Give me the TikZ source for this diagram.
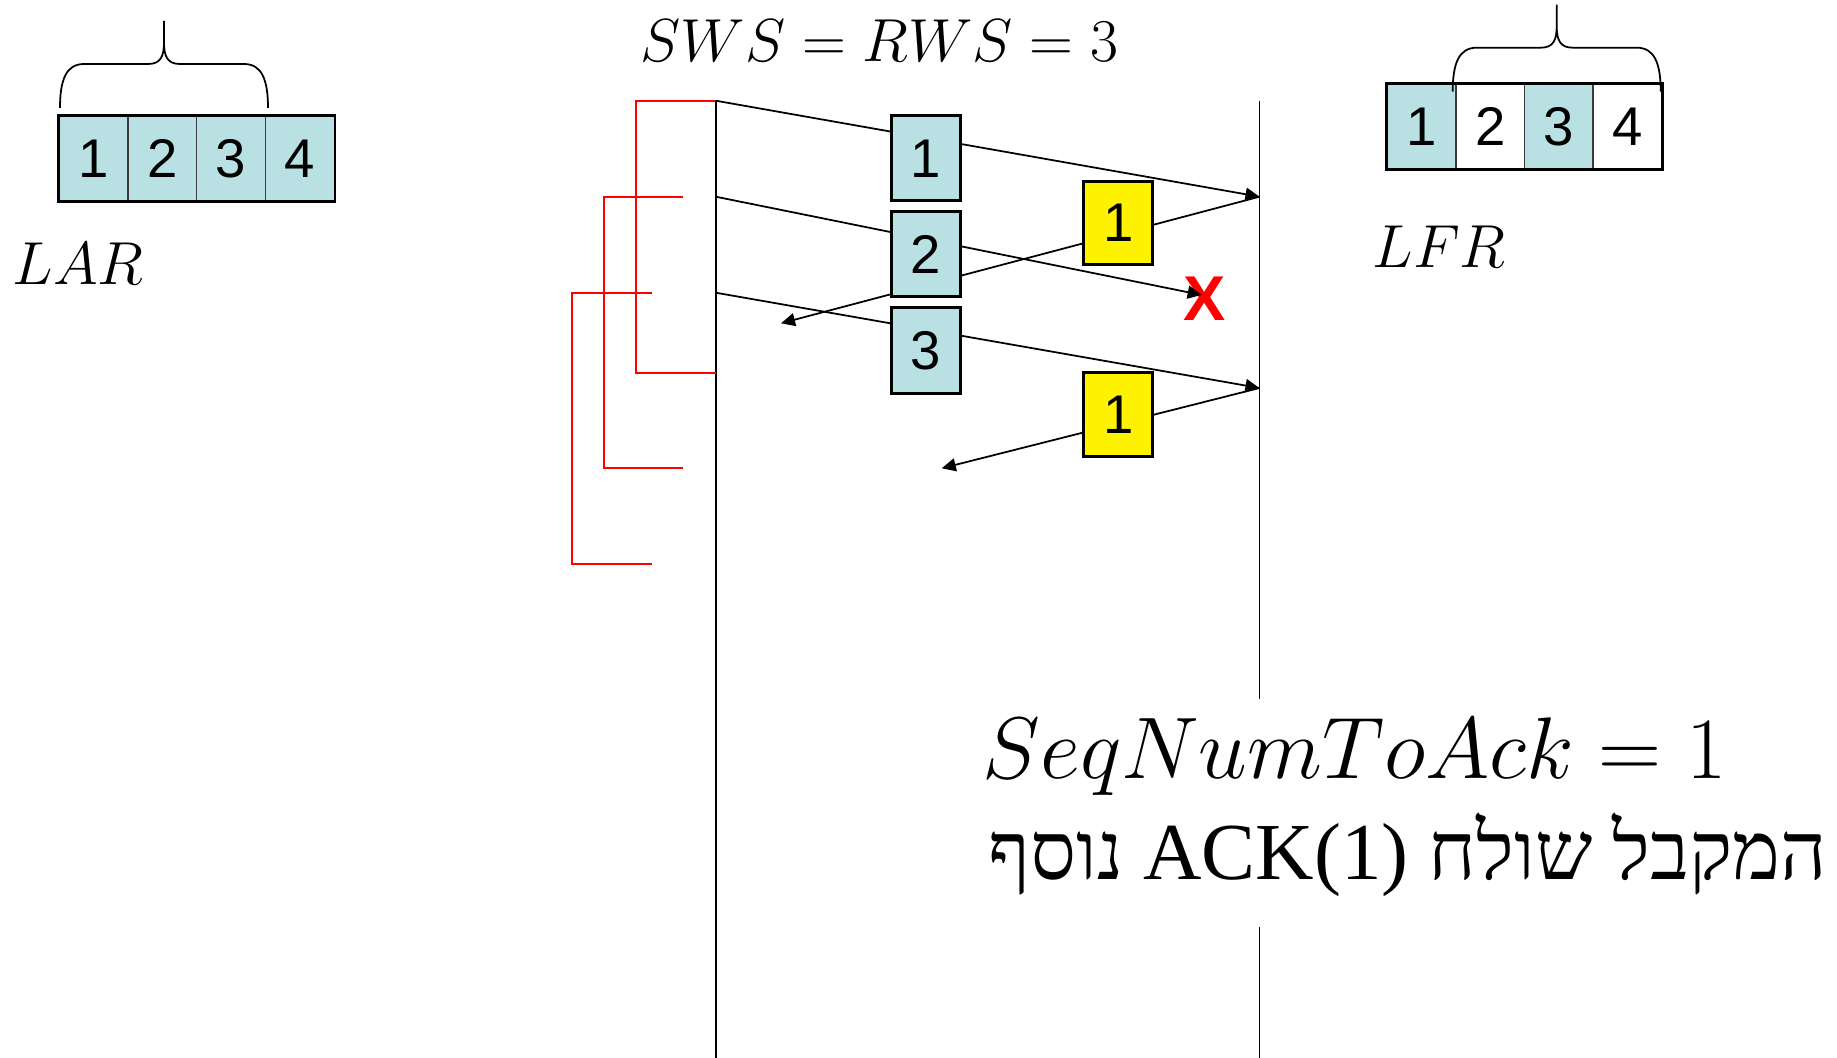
\documentclass[tikz,border=0pt]{standalone}
\usepackage{fontspec}
\newfontfamily\arial{Liberation Sans}
\newfontfamily\hebfont[Script=Hebrew]{Liberation Serif}
\TeXXeTstate=1
\usetikzlibrary{arrows.meta}
\definecolor{aqua}{RGB}{185,224,227}
\definecolor{sep}{RGB}{60,60,60}
\tikzset{winbrace/.pic={
  \draw[line width=0.5pt] (0,0) .. controls (0,-28) and (6,-44) .. (24,-44) -- (88,-44)
    .. controls (101,-44) and (104,-52) .. (104,-66) -- (104,-87)
    -- (104,-66) .. controls (104,-52) and (107,-44) .. (120,-44) -- (184,-44)
    .. controls (202,-44) and (208,-28) .. (208,0);}}

\begin{document}
\begin{tikzpicture}[x=0.01cm,y=-0.01cm]
  \tikzstyle{cell}=[draw=sep,line width=0.4pt,minimum width=0.6875cm,minimum height=0.85cm,inner sep=0pt,font=\arial\fontsize{15.5}{18}\selectfont]
  \tikzstyle{pkt}=[draw,line width=0.85pt,fill=aqua,minimum width=0.69cm,minimum height=0.85cm,inner sep=0pt,font=\arial\fontsize{15.5}{18}\selectfont]
  \tikzstyle{ack}=[pkt,fill=yellow,minimum height=0.83cm]
  \tikzstyle{msg}=[line width=0.5pt,-{Triangle[length=4pt,width=3.7pt]}]
  \tikzstyle{tmo}=[red,line width=0.6pt]
  \tikzstyle{lbl}=[inner sep=0pt,anchor=base west,font=\fontsize{17}{20}\selectfont]
  \useasboundingbox (0,0) rectangle (1837,1058);
  % Lignes de temps
  \coordinate (S1) at (715.7,100.7);   % envoi 1
  \coordinate (S2) at (715.7,196.7);   % envoi 2
  \coordinate (S3) at (715.7,292.7);   % envoi 3
  \coordinate (Sb) at (715.7,1058);
  \coordinate (R0) at (1259.5,100.7);
  \coordinate (R1) at (1259.5,196.7);  % reception 1
  \coordinate (R3) at (1259.5,388);    % reception 3
  \coordinate (Rc) at (1259.5,699.3);  % coupure (texte)
  \coordinate (Rr) at (1259.5,926.7);
  \coordinate (Rb) at (1259.5,1058);
  \coordinate (drop) at (1201.7,295);  % paquet perdu
  \coordinate (A1) at (781,323.3);
  \coordinate (A2) at (941.7,468.3);
  \draw[line width=0.5pt] (S1)--(Sb);
  \draw[line width=0.5pt] (R0)--(Rc) (Rr)--(Rb);
  % Temporisations
  \draw[tmo] (S1) -| (636,372.7) -- (715.7,372.7);
  \draw[tmo] (683.3,196.7) -| (604,468.3) -- (683.3,468.3);
  \draw[tmo] (651.7,292.7) -| (572,564.3) -- (651.7,564.3);
  % Perte
  \node[text=red,inner sep=0pt,font=\arial\bfseries\fontsize{18}{20}\selectfont] (lost) at (1204.5,298.3) {X};
  % Messages
  \draw[msg] (S1)--(R1);
  \draw[msg] (S2)--(drop);
  \draw[msg] (S3)--(R3);
  \draw[msg] (R1)--(A1);
  \draw[msg] (R3)--(A2);
  \node[pkt] (p1) at (926,158.3) {1};
  \node[pkt] (p2) at (926,254.3) {2};
  \node[pkt] (p3) at (926,350.5) {3};
  \node[ack] (a1) at (1118.3,223.2) {1};
  \node[ack] (a2) at (1118.3,414.5) {1};
  % Fenetre emetteur
  \foreach \i in {1,...,4}
    \node[cell,fill=aqua] (lar\i) at ({59.3+68.75*\i-34.4},158.5) {\i};
  \draw[line width=0.85pt] (lar1.north west) rectangle (lar4.south east);
  \pic at (60,108) {winbrace};
  % Fenetre recepteur
  \foreach \i/\c in {1/aqua,2/white,3/aqua,4/white}
    \node[cell,fill=\c] (lfr\i) at ({1387.3+68.6*\i-34.3},126.3) {\i};
  \draw[line width=0.85pt] (lfr1.north west) rectangle (lfr4.south east);
  \pic at (1452.7,91.7) {winbrace};
  % Textes
  \node[lbl,anchor=base] (sws) at (879.5,62) {$SWS = RWS = 3$};
  \node[lbl,font=\fontsize{16}{19}\selectfont] (lar) at (12,285) {$LAR$};
  \node[lbl,font=\fontsize{16}{19}\selectfont] (lfr) at (1372,268) {$LFR$};
  \node[lbl,font=\fontsize{24}{28}\selectfont] (seq) at (982,778) {$SeqNumToAck = 1$};
  \node[inner sep=0pt,anchor=base east,font=\hebfont\fontsize{23}{27}\selectfont] (heb) at (1828,879)
    {\beginR המקבל שולח \beginL ACK(1)\endL{} נוסף\endR};
\end{tikzpicture}
\end{document}
